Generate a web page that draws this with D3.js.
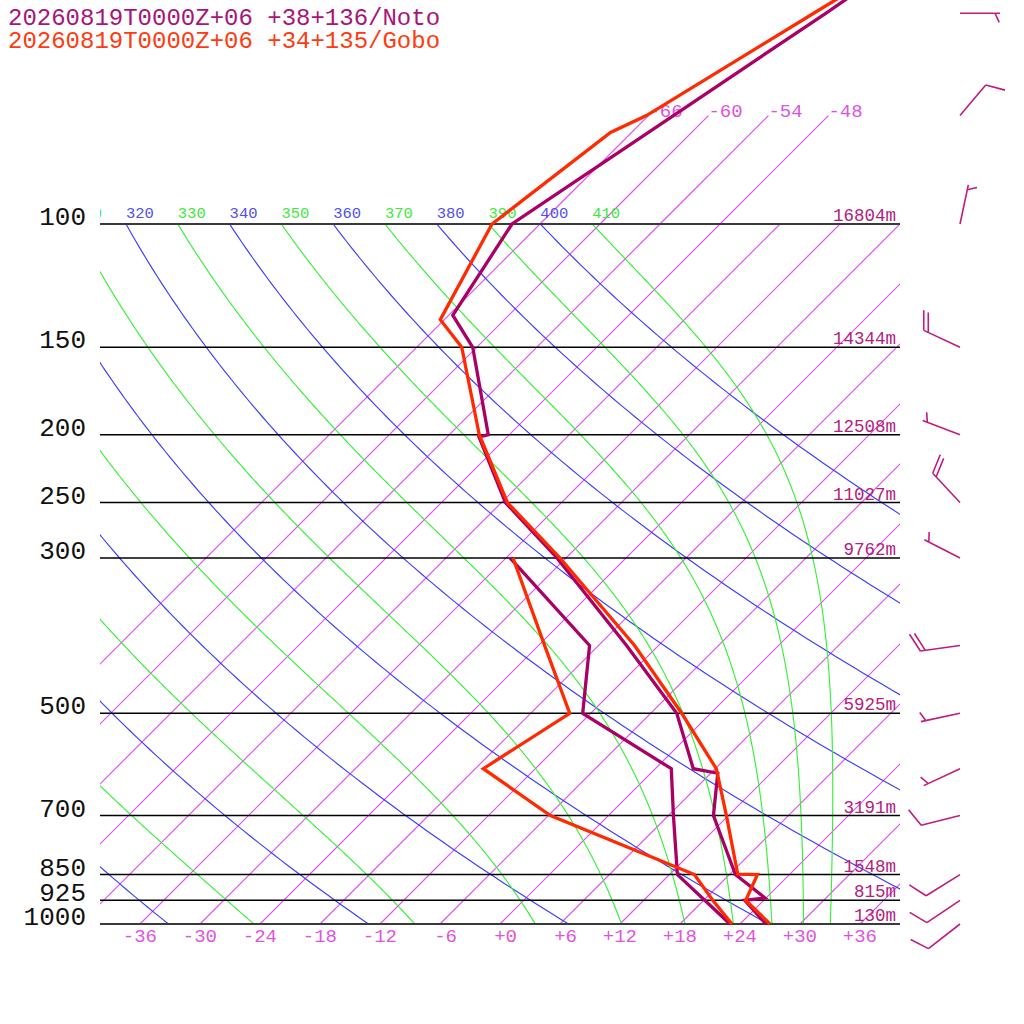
<!DOCTYPE html>
<html>
<head>
<meta charset="utf-8">
<script src="https://cdn.jsdelivr.net/npm/d3@7/dist/d3.min.js"></script>
<style>
body { margin: 0; background: #fff; }
text { font-family: "Liberation Mono", "DejaVu Sans Mono", monospace; }
</style>
</head>
<body>
<div id="chart"></div>
<script>
'use strict';

// ---- data ----
var titles = ['20260819T0000Z+06 +38+136/Noto', '20260819T0000Z+06 +34+135/Gobo'];

var isobars = [1000, 925, 850, 700, 500, 300, 250, 200, 150, 100];
var heights = ['130m', '815m', '1548m', '3191m', '5925m', '9762m', '11027m', '12508m', '14344m', '16804m'];

var isotherms = [-66, -60, -54, -48, -42, -36, -30, -24, -18, -12, -6, 0, 6, 12, 18, 24, 30, 36];
var upperIsotherms = [-66, -60, -54, -48];
var tempTicks = [-36, -30, -24, -18, -12, -6, 0, 6, 12, 18, 24, 30, 36];
var dryThetas = [240, 260, 280, 300, 320, 340, 360, 380, 400];
var moistThetas = [250, 270, 290, 310, 330, 350, 370, 390, 410];

// Noto (magenta)
var notoTP = [1000, 925, 918, 850, 700, 609, 600, 500, 400, 300, 250, 201.5, 200, 150, 135, 100, 70, 50, 30];
var notoT  = [26.6, 22.1, 23.9, 18.6, 10.5, 6.7, 3.8, -3.4, -15.2, -30.9, -41.6, -50.8, -50.1, -60.4, -65.6, -68.8, -63.5, -58.5, -51.4];
var notoDP = [1000, 925, 850, 700, 600, 500, 400, 300];
var notoTd = [23.0, 18.1, 12.8, 6.5, 1.6, -12.8, -18.9, -35.6];

// Gobo (red)
var goboTP = [1000, 925, 850, 849, 700, 600, 500, 400, 300, 250, 200, 150, 137, 100, 74, 70, 50, 30];
var goboT  = [27.0, 22.2, 20.8, 18.8, 11.8, 6.1, -2.9, -14.4, -30.6, -41.4, -51.0, -61.5, -66.4, -70.8, -68.1, -66.2, -59.7, -49.9];
var goboDP = [1000, 925, 850, 700, 600, 500, 400, 300];
var goboTd = [23.2, 18.9, 14.5, -5.8, -17.2, -14.1, -23.4, -35.3];

// winds (Noto)
var windP   = [1000, 925, 850, 700, 600, 500, 400, 300, 250, 200, 150, 100, 70, 50];
var windDir = [232, 236, 238, 256, 245, 258, 262, 297, 317, 291, 295, 12, 40, 90];
var windKt  = [10, 10, 10, 10, 5, 5, 20, 5, 20, 5, 20, 5, 10, 5];

// ---- styles ----
var colNoto = '#aa0066';
var colGobo = '#ff2a00';
var colIsoLine = '#e050f0';
var colIsoText = '#dd55dd';
var colDry = '#3c3cff';
var colMoist = '#38f038';

var KAPPA = 0.2857, RD = 287.04, CP = 1005.7, LV = 2.501e6, EPS = 0.622;

var svg = d3.select('#chart').append('svg')
    .attr('width', 1024)
    .attr('height', 1024);

var xScale = d3.scaleLinear().domain([-40, 40]).range([100, 900]);
var yScale = d3.scaleLog().domain([1000, 100]).range([924, 224]);

function skewX(t, p) {
    return xScale(t) + (yScale(1000) - yScale(p));
}

var line = d3.line()
    .x(function (d) { return skewX(d[1], d[0]); })
    .y(function (d) { return yScale(d[0]); });

var defs = svg.append('defs');
defs.append('clipPath').attr('id', 'plotClip')
    .append('rect').attr('x', 100).attr('y', 224).attr('width', 800).attr('height', 700);
defs.append('clipPath').attr('id', 'sideClip')
    .append('rect').attr('x', 100).attr('y', 0).attr('width', 800).attr('height', 924);

var grid = svg.append('g').attr('clip-path', 'url(#plotClip)');

// isotherms
grid.append('g').selectAll('line').data(isotherms).enter()
    .append('line')
    .attr('x1', function (t) { return skewX(t, 1000); })
    .attr('y1', yScale(1000))
    .attr('x2', function (t) { return skewX(t, 100); })
    .attr('y2', yScale(100))
    .attr('stroke', colIsoLine)
    .attr('stroke-width', 1.15);

// dry adiabats
function dryPoints(theta) {
    var pts = [];
    for (var i = 0; i <= 120; i++) {
        var p = 1000 * Math.pow(0.1, i / 120);
        pts.push([p, theta * Math.pow(p / 1000, KAPPA) - 273.15]);
    }
    return pts;
}
grid.append('g').selectAll('path').data(dryThetas).enter()
    .append('path')
    .attr('d', function (th) { return line(dryPoints(th)); })
    .style('fill', 'none').style('stroke', colDry).style('stroke-width', 1.15);

// moist (pseudo) adiabats, integrated down from 100 hPa
function es(tk) { return 6.112 * Math.exp(17.67 * (tk - 273.15) / (tk - 29.65)); }
function dTdlnp(lnp, tk) {
    var p = Math.exp(lnp);
    var e = es(tk);
    var rs = EPS * e / (p - e);
    return (RD * tk + LV * rs) / (CP + LV * LV * rs * EPS / (RD * tk * tk));
}
function moistPoints(theta) {
    var n = 300, h = Math.log(10) / n;
    var lnp = Math.log(100), tk = theta * Math.pow(0.1, KAPPA);
    var pts = [[100, tk - 273.15]];
    for (var i = 0; i < n; i++) {
        var k1 = dTdlnp(lnp, tk);
        var k2 = dTdlnp(lnp + h / 2, tk + h * k1 / 2);
        var k3 = dTdlnp(lnp + h / 2, tk + h * k2 / 2);
        var k4 = dTdlnp(lnp + h, tk + h * k3);
        tk += h * (k1 + 2 * k2 + 2 * k3 + k4) / 6;
        lnp += h;
        pts.push([Math.exp(lnp), tk - 273.15]);
    }
    return pts;
}
grid.append('g').selectAll('path').data(moistThetas).enter()
    .append('path')
    .attr('d', function (th) { return line(moistPoints(th)); })
    .style('fill', 'none').style('stroke', colMoist).style('stroke-width', 1.15);

// upper isotherms 100 -> 70 hPa with labels
var upper = svg.append('g').attr('clip-path', 'url(#sideClip)');
upperIsotherms.forEach(function (t) {
    upper.append('line')
        .attr('x1', skewX(t, 100)).attr('y1', yScale(100))
        .attr('x2', skewX(t, 70)).attr('y2', yScale(70))
        .attr('stroke', colIsoLine)
        .attr('stroke-width', 1.15);
    upper.append('text')
        .attr('x', skewX(t, 70))
        .attr('y', yScale(70) + 1.5)
        .attr('font-size', 19)
        .attr('fill', colIsoText)
        .text(String(t));
});

// theta labels along 100 hPa (only those reaching into the plot)
var thLabels = dryThetas.map(function (d) { return {th: d, c: '#5050f0'}; })
    .concat(moistThetas.map(function (d) { return {th: d, c: '#40e840'}; }));
thLabels.forEach(function (d) {
    var x = skewX(d.th * Math.pow(0.1, KAPPA) - 273.15, 100);
    if (x + 27 < 100) return;
    upper.append('text')
        .attr('x', x)
        .attr('y', 218)
        .attr('font-size', 15.5)
        .attr('fill', d.c)
        .text(d.th);
});

// isobars
isobars.forEach(function (p, i) {
    var y = yScale(p);
    svg.append('line')
        .attr('x1', 100).attr('x2', 900)
        .attr('y1', y).attr('y2', y)
        .attr('stroke', (p === 1000 || p === 100) ? '#3a3a3a' : '#000')
        .attr('stroke-width', (p === 1000 || p === 100) ? 2 : 1.5);
    svg.append('text')
        .attr('x', 86).attr('y', y + 1)
        .attr('text-anchor', 'end')
        .attr('font-size', 26)
        .attr('fill', '#111')
        .text(p);
    svg.append('text')
        .attr('x', 896).attr('y', y - 3)
        .attr('text-anchor', 'end')
        .attr('font-size', 17.5)
        .attr('fill', '#b3207a')
        .text(heights[i]);
});

// temperature ticks at the bottom
tempTicks.forEach(function (t) {
    svg.append('text')
        .attr('x', xScale(t) + 17)
        .attr('y', 942)
        .attr('text-anchor', 'end')
        .attr('font-size', 19)
        .attr('fill', '#dd55dd')
        .text((t >= 0 ? '+' : '') + t);
});

// profiles
function zipPT(ps, ts) {
    return ps.map(function (p, i) { return [p, ts[i]]; });
}
var profiles = [
    {pts: zipPT(notoTP, notoT), c: colNoto},
    {pts: zipPT(notoDP, notoTd), c: colNoto},
    {pts: zipPT(goboTP, goboT), c: colGobo},
    {pts: zipPT(goboDP, goboTd), c: colGobo}
];
profiles.forEach(function (pr) {
    svg.append('path')
        .attr('d', line(pr.pts))
        .style('fill', 'none')
        .style('stroke', pr.c)
        .style('stroke-width', 3.3);
});

// wind barbs
function barbPath(x0, y0, dir, kt) {
    var r = dir * Math.PI / 180;
    var ux = Math.sin(r), uy = -Math.cos(r);
    var px = Math.cos(r), py = Math.sin(r);
    var a = 25 * Math.PI / 180;
    var bx = px * Math.cos(a) + ux * Math.sin(a);
    var by = py * Math.cos(a) + uy * Math.sin(a);
    var L = 40;
    var tx = x0 + ux * L, ty = y0 + uy * L;
    var d = 'M' + x0 + ',' + y0 + 'L' + tx + ',' + ty;
    var full = Math.floor(kt / 10);
    var half = (kt % 10) >= 5 ? 1 : 0;
    var pos = (full === 0 && half) ? 5 : 0;
    for (var i = 0; i < full; i++) {
        var sx = tx - ux * pos, sy = ty - uy * pos;
        d += 'M' + sx + ',' + sy + 'l' + (bx * 20) + ',' + (by * 20);
        pos += 5;
    }
    if (half) {
        var hx = tx - ux * pos, hy = ty - uy * pos;
        d += 'M' + hx + ',' + hy + 'l' + (bx * 10) + ',' + (by * 10);
    }
    return d;
}
windP.forEach(function (p, i) {
    svg.append('path')
        .attr('d', barbPath(960, yScale(p), windDir[i], windKt[i]))
        .style('fill', 'none')
        .style('stroke', '#c01c80')
        .style('stroke-width', 1.6);
});

// titles
titles.forEach(function (t, i) {
    svg.append('text')
        .attr('x', 8).attr('y', 25 + i * 23)
        .attr('font-size', 24)
        .attr('fill', i === 0 ? '#a8147a' : '#ff3a10')
        .text(t);
});
</script>
</body>
</html>
